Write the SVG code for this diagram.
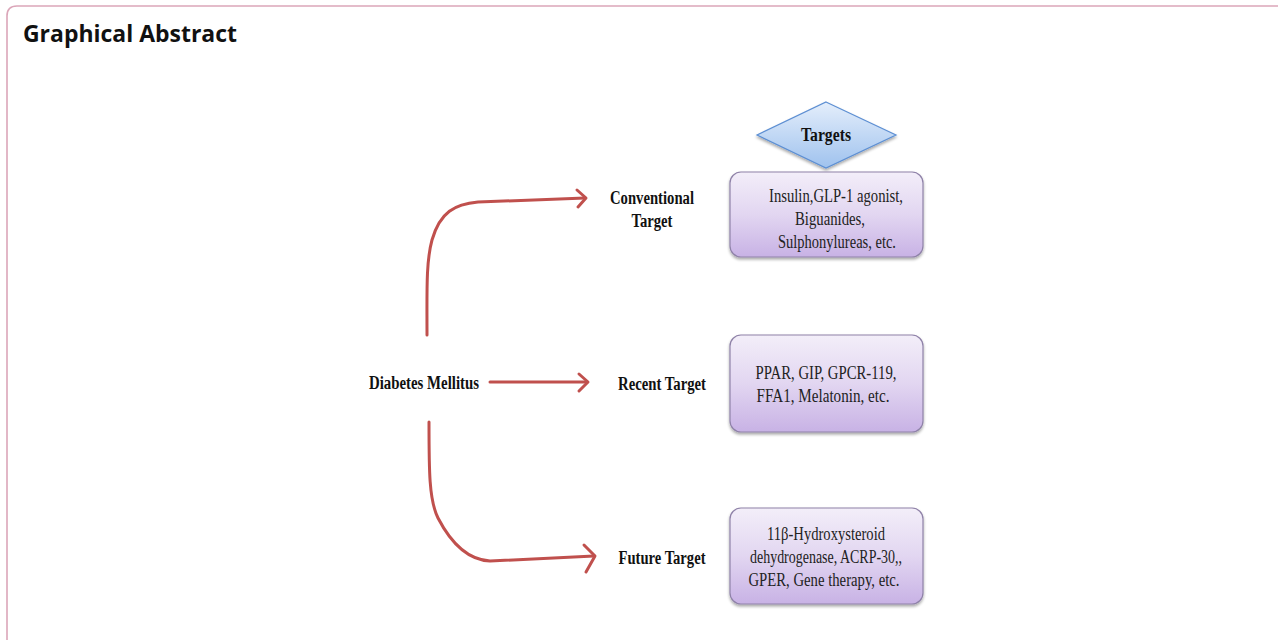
<svg xmlns="http://www.w3.org/2000/svg" width="1278" height="640" viewBox="0 0 1278 640">
  <style>
    .frame { fill: none; stroke: #dba6b9; stroke-width: 1.6; }
    .title { font-family: "Open Sans", "Liberation Sans", sans-serif; font-weight: 700; font-size: 23px; fill: #111; }
    .lbl { font-family: "Liberation Serif", "Times New Roman", serif; font-weight: 700; font-size: 18px; fill: #111; }
    .body { font-family: "Liberation Serif", "Times New Roman", serif; font-size: 18.5px; fill: #222; }
    .box { fill: url(#boxFill); stroke: #8f82a8; stroke-width: 1.2; filter: url(#shadow); }
    .dia { fill: url(#diaFill); stroke: #5d8fd3; stroke-width: 1.2; filter: url(#shadow); }
    .arrow { fill: none; stroke: #c0504d; stroke-width: 3; stroke-linecap: round; stroke-linejoin: round; }
  </style>
  <defs>
    <linearGradient id="boxFill" x1="0" y1="0" x2="0" y2="1">
      <stop offset="0" stop-color="#f3eef9"/>
      <stop offset="0.5" stop-color="#e2d6f1"/>
      <stop offset="1" stop-color="#c8b2e5"/>
    </linearGradient>
    <linearGradient id="diaFill" x1="0" y1="0" x2="0" y2="1">
      <stop offset="0" stop-color="#e4eefb"/>
      <stop offset="1" stop-color="#9fc2ee"/>
    </linearGradient>
    <filter id="shadow" x="-10%" y="-10%" width="120%" height="130%">
      <feGaussianBlur in="SourceAlpha" stdDeviation="1.5"/>
      <feOffset dx="0" dy="2" result="b"/>
      <feComponentTransfer><feFuncA type="linear" slope="0.35"/></feComponentTransfer>
      <feMerge><feMergeNode/><feMergeNode in="SourceGraphic"/></feMerge>
    </filter>
  </defs>

  <rect width="1278" height="640" fill="#ffffff"/>
  <!-- outer frame: top and left edges with rounded corner -->
  <path class="frame" d="M7,640 V16 Q7,6 17,6 H1278"/>
  <text class="title" x="23" y="42" textLength="214" lengthAdjust="spacingAndGlyphs">Graphical Abstract</text>

  <g id="connectors">
    <!-- to conventional target -->
    <path class="arrow" d="M427,335 C427,290 426,262 432,240 C440,212 455,204 478,202 L585,198"/>
    <path class="arrow" d="M577,190 L586,198 L578,207"/>
    <!-- to recent target -->
    <path class="arrow" d="M490,382 L587,382"/>
    <path class="arrow" d="M579,374 L588,382 L579,391"/>
    <!-- to future target -->
    <path class="arrow" d="M429,422 C429,470 429,500 438,518 C452,545 470,560 490,561 L594,556"/>
    <path class="arrow" d="M584,545 L595,556 L586,572"/>
  </g>

  <g id="diabetes">
    <text class="lbl" x="424" y="389" text-anchor="middle" textLength="110" lengthAdjust="spacingAndGlyphs">Diabetes Mellitus</text>
  </g>

  <g id="conventional">
    <text class="lbl" x="652" y="204" text-anchor="middle" textLength="84" lengthAdjust="spacingAndGlyphs">Conventional</text>
    <text class="lbl" x="652" y="227" text-anchor="middle" textLength="41" lengthAdjust="spacingAndGlyphs">Target</text>
  </g>
  <g id="recent">
    <text class="lbl" x="662" y="390" text-anchor="middle" textLength="88" lengthAdjust="spacingAndGlyphs">Recent Target</text>
  </g>
  <g id="future">
    <text class="lbl" x="662" y="564" text-anchor="middle" textLength="87" lengthAdjust="spacingAndGlyphs">Future Target</text>
  </g>

  <g id="targets">
    <polygon class="dia" points="826,102 896,135 826,168 757,135"/>
    <text class="lbl" x="826" y="141" text-anchor="middle" textLength="50" lengthAdjust="spacingAndGlyphs">Targets</text>
  </g>

  <g id="box-conventional">
    <rect class="box" x="730" y="172" width="193" height="85" rx="11"/>
    <text class="body" x="836" y="202" text-anchor="middle" textLength="134" lengthAdjust="spacingAndGlyphs">Insulin,GLP-1 agonist,</text>
    <text class="body" x="830" y="225" text-anchor="middle" textLength="70" lengthAdjust="spacingAndGlyphs">Biguanides,</text>
    <text class="body" x="837" y="248" text-anchor="middle" textLength="118" lengthAdjust="spacingAndGlyphs">Sulphonylureas, etc.</text>
  </g>

  <g id="box-recent">
    <rect class="box" x="730" y="335" width="193" height="97" rx="11"/>
    <text class="body" x="826" y="379" text-anchor="middle" textLength="141" lengthAdjust="spacingAndGlyphs">PPAR, GIP, GPCR-119,</text>
    <text class="body" x="823" y="402" text-anchor="middle" textLength="133" lengthAdjust="spacingAndGlyphs">FFA1, Melatonin, etc.</text>
  </g>

  <g id="box-future">
    <rect class="box" x="730" y="508" width="193" height="96" rx="11"/>
    <text class="body" x="826" y="540" text-anchor="middle" textLength="118" lengthAdjust="spacingAndGlyphs">11β-Hydroxysteroid</text>
    <text class="body" x="826" y="563" text-anchor="middle" textLength="152" lengthAdjust="spacingAndGlyphs">dehydrogenase, ACRP-30,,</text>
    <text class="body" x="824" y="586" text-anchor="middle" textLength="151" lengthAdjust="spacingAndGlyphs">GPER, Gene therapy, etc.</text>
  </g>
</svg>
